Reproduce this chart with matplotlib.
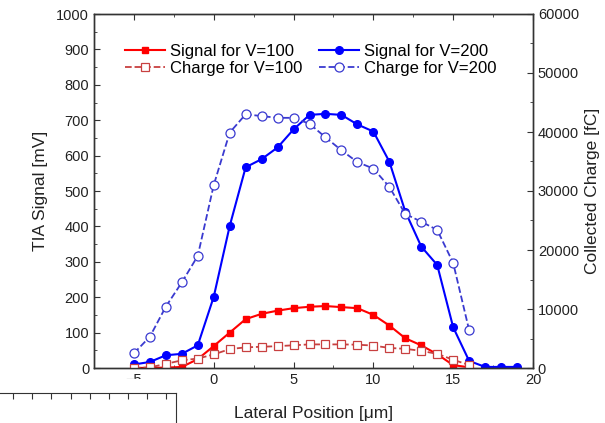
import matplotlib.pyplot as plt
from matplotlib.patches import Rectangle
from matplotlib.ticker import MultipleLocator

plt.rcParams['font.family'] = ['Liberation Sans', 'DejaVu Sans']

# datos
pos_200 = list(range(-5, 20))
senal_200 = [10, 17, 36, 40, 64, 201, 401, 567, 590, 623, 674, 715, 718, 715,
             688, 668, 583, 442, 343, 291, 115, 20, 3, 3, 3]

pos_corto = list(range(-5, 17))
senal_100 = [0, 0.5, 1, 3, 25, 62, 100, 138, 153, 162, 169, 173, 175, 172,
             169, 150, 120, 84, 64, 39, 8, 2]

carga_200 = [2500, 5300, 10400, 14500, 19000, 31000, 39900, 43000, 42700, 42400,
             42400, 41400, 39100, 36900, 34900, 33800, 30700, 26100, 24800, 23400,
             17800, 6400]
carga_100 = [0, 100, 700, 1300, 1600, 2300, 3200, 3500, 3600, 3700, 3850, 4000,
             4000, 4000, 3950, 3800, 3400, 3250, 2900, 2400, 1400, 500]

rojo = '#ff0000'
rojo_claro = '#c84040'
azul = '#0000ff'
azul_claro = '#3a3ad0'
gris = '#333333'

fig = plt.figure(figsize=(6.05, 4.23), dpi=100)
ax = fig.add_axes([94 / 605, 1 - 368 / 423, 439 / 605, 354 / 423])
ax2 = ax.twinx()

l1, = ax.plot(pos_corto, senal_100, '-s', color=rojo, lw=1.5, ms=5,
              label='Signal for V=100')
l3, = ax.plot(pos_200, senal_200, '-o', color=azul, lw=1.5, ms=5.5,
              label='Signal for V=200')
l2, = ax2.plot(pos_corto, carga_100, '--s', color=rojo_claro, lw=1.3, ms=5.5,
               mfc='white', mec=rojo_claro, mew=0.9, label='Charge for V=100')
l4, = ax2.plot(pos_corto, carga_200, '--o', color=azul_claro, lw=1.3, ms=6.5,
               mfc='white', mec=azul_claro, mew=0.9, label='Charge for V=200')

ax.set_xlim(-7.5, 20)
ax.set_ylim(0, 1000)
ax2.set_ylim(0, 60000)

ax.xaxis.set_major_locator(MultipleLocator(5))
ax.xaxis.set_minor_locator(MultipleLocator(2.5))
ax.yaxis.set_major_locator(MultipleLocator(100))
ax.yaxis.set_minor_locator(MultipleLocator(50))
ax2.yaxis.set_major_locator(MultipleLocator(10000))
ax2.yaxis.set_minor_locator(MultipleLocator(5000))

for a in (ax, ax2):
    for s in a.spines.values():
        s.set_color(gris)
        s.set_linewidth(1.0)
ax.tick_params(axis='both', which='both', direction='in', color=gris,
               labelcolor='#222222', labelsize=10.5, top=True)
ax.tick_params(which='major', length=4)
ax.tick_params(which='minor', length=2.5)
ax2.tick_params(axis='y', which='both', direction='in', color=gris,
                labelcolor='#222222', labelsize=10.5)
ax2.tick_params(which='major', length=4)
ax2.tick_params(which='minor', length=2.5)

ax.set_xlabel('Lateral Position [\u03bcm]', fontsize=12.5, color='#222222', labelpad=14)
ax.set_ylabel('TIA Signal [mV]', fontsize=12.5, color='#222222', labelpad=6)
ax2.set_ylabel('Collected Charge [fC]', fontsize=12.5, color='#222222', labelpad=4)

ax2.legend(handles=[l1, l2, l3, l4], ncol=2, loc='upper left',
           bbox_to_anchor=(0.055, 0.935), frameon=False, fontsize=12,
           handlelength=2.4, handletextpad=0.3, columnspacing=1.0,
           labelspacing=0.15, borderaxespad=0)

# restos de otra figura recortada abajo a la izquierda
fig.patches.append(Rectangle((0, 0), 178 / 605, (423 - 379) / 423,
                             transform=fig.transFigure, facecolor='white',
                             edgecolor='none', zorder=5))
caja = fig.add_axes([-0.01, -0.2, 182 / 605, 0.2 + (423 - 393) / 423], zorder=6)
caja.set_xlim(0, 9.5)
caja.set_ylim(0, 1)
caja.spines['left'].set_visible(False)
caja.spines['bottom'].set_visible(False)
for s in caja.spines.values():
    s.set_color(gris)
caja.xaxis.set_major_locator(MultipleLocator(1))
caja.tick_params(axis='x', which='both', direction='in', bottom=False, top=True,
                 labelbottom=False, color=gris)
caja.tick_params(which='major', length=4)
caja.set_yticks([])

fig.savefig('out.png', dpi=100)
